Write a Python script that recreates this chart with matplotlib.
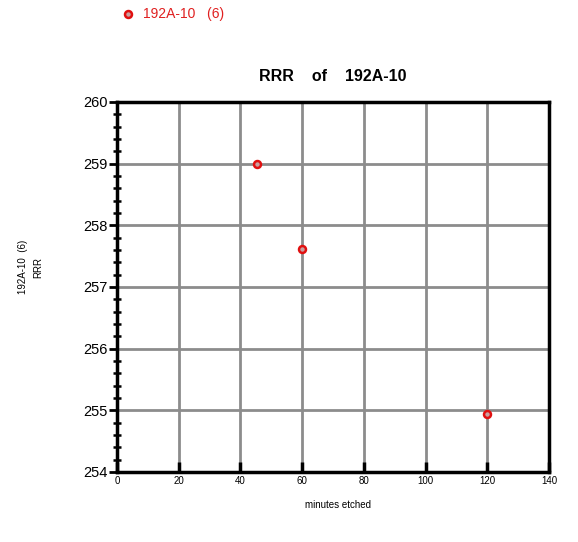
import matplotlib.pyplot as plt
import numpy as np

plt.rcParams['font.family'] = ['Liberation Sans', 'DejaVu Sans']

minutes = [45.5, 60, 120]
rrr = [259.0, 257.62, 254.94]
xticks = [0, 20, 40, 60, 80, 100, 120, 140]
yticks = [254, 255, 256, 257, 258, 259, 260]

fig = plt.figure(figsize=(5.78, 5.42), dpi=100)
ax = fig.add_axes([0.2024, 0.1292, 0.7474, 0.6827])

ax.plot(minutes, rrr, linestyle='none', marker='o', markersize=5,
        markerfacecolor='#c8a0a0', markeredgecolor='#e01010', markeredgewidth=1.8,
        zorder=5, clip_on=False)

ax.set_xlim(0, 140)
ax.set_ylim(254, 260)
ax.set_xticks(xticks)
ax.set_yticks(yticks)
ax.set_yticks(np.arange(254, 260.01, 0.2), minor=True)
ax.grid(True, which='major', color='#8c8c8c', linewidth=2)
ax.set_axisbelow(True)

for s in ax.spines.values():
    s.set_linewidth(2.5)
    s.set_color('black')

ax.tick_params(axis='x', direction='in', length=7, width=2.5, labelsize=7, pad=3)
ax.tick_params(axis='y', which='major', direction='out', length=6, width=2, labelsize=10.5, pad=1)
ax.tick_params(axis='y', which='minor', direction='inout', length=6, width=1.8)

ax.set_title('RRR    of    192A-10', fontsize=11.5, fontweight='bold', pad=15)

fig.text(0.584, 0.068, 'minutes etched', fontsize=7, ha='center', va='center')
fig.text(0.040, 0.507, '192A-10  (6)', fontsize=7, rotation=90, ha='center', va='center')
fig.text(0.066, 0.507, 'RRR', fontsize=7, rotation=90, ha='center', va='center')

fig.lines.append(plt.Line2D([0.2215], [0.974], transform=fig.transFigure, marker='o',
                            markersize=5, markerfacecolor='#c8a0a0',
                            markeredgecolor='#e01010', markeredgewidth=1.8))
fig.text(0.247, 0.974, '192A-10   (6)', fontsize=10, color='#e02020', ha='left', va='center')

fig.savefig('out.png', dpi=100)
